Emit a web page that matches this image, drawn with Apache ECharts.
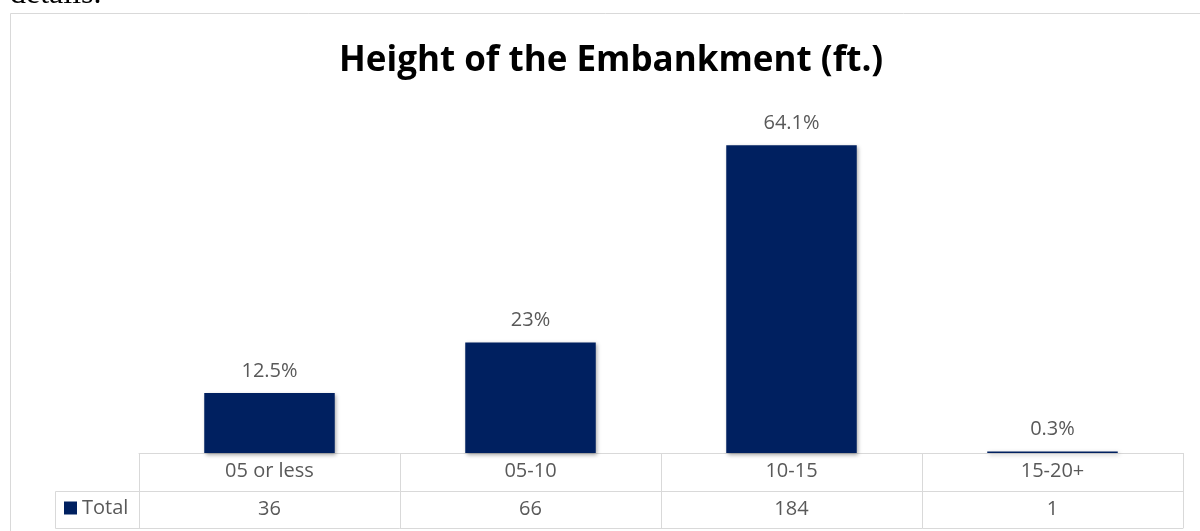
<!DOCTYPE html>
<html>
<head>
<meta charset="utf-8">
<script src="https://cdn.jsdelivr.net/npm/echarts@6/dist/echarts.min.js"></script>
<style>
html,body{margin:0;padding:0;background:#fff;}
#chart{width:1200px;height:531px;}
</style>
</head>
<body>
<div id="chart"></div>
<script>
const categories = ['05 or less', '05-10', '10-15', '15-20+'];
const percentValues = [12.5, 23, 64.1, 0.3];
const percentLabels = ['12.5%', '23%', '64.1%', '0.3%'];
const totalCounts = ['36', '66', '184', '1'];
const seriesName = 'Total';
const chartTitle = 'Height of the Embankment (ft.)';

const FONT = '"Open Sans"';
const GREY = '#595959';
const LINE = '#d9d9d9';
const NAVY = '#002060';

const chart = echarts.init(document.getElementById('chart'));
chart.setOption({
  animation: false,
  backgroundColor: '#fff',
  title: {
    text: chartTitle,
    left: 339,
    top: 44,
    padding: 0,
    textStyle: { fontFamily: FONT, fontWeight: 'bold', fontSize: 35, color: '#000' }
  },
  legend: {
    data: [seriesName],
    left: 64,
    top: 498,
    padding: 0,
    itemWidth: 13,
    itemHeight: 13,
    itemGap: 5,
    icon: 'rect',
    textStyle: { fontFamily: FONT, fontSize: 20, color: GREY, padding: [0, 0, 0, 0] }
  },
  grid: { left: 139, right: 17, top: 117, bottom: 78, containLabel: false },
  xAxis: [
    {
      type: 'category',
      data: categories,
      position: 'bottom',
      axisLine: { show: true, lineStyle: { color: LINE, width: 1 } },
      axisTick: { show: true, length: 75, interval: 0, lineStyle: { color: LINE, width: 1 } },
      axisLabel: { interval: 0, margin: 18, verticalAlign: 'middle', fontFamily: FONT, fontSize: 20, color: GREY },
      splitLine: { show: false }
    },
    {
      type: 'category',
      data: totalCounts,
      position: 'bottom',
      offset: 38,
      axisLine: { show: true, lineStyle: { color: LINE, width: 1 } },
      axisTick: { show: false },
      axisLabel: { interval: 0, margin: 18, verticalAlign: 'middle', fontFamily: FONT, fontSize: 20, color: GREY },
      splitLine: { show: false }
    },
    {
      type: 'category',
      data: categories,
      position: 'bottom',
      offset: 75,
      axisLine: { show: true, lineStyle: { color: LINE, width: 1 } },
      axisTick: { show: false },
      axisLabel: { show: false },
      splitLine: { show: false }
    }
  ],
  yAxis: {
    type: 'value',
    min: 0,
    max: 70,
    show: false,
    splitLine: { show: false }
  },
  series: [{
    name: seriesName,
    type: 'bar',
    xAxisIndex: 0,
    data: percentValues,
    barWidth: '50%',
    itemStyle: {
      color: NAVY,
      shadowColor: 'rgba(0,0,0,0.35)',
      shadowBlur: 4,
      shadowOffsetX: 1.5,
      shadowOffsetY: 1.5
    },
    label: {
      show: true,
      position: 'top',
      distance: 12,
      fontFamily: FONT,
      fontSize: 20,
      color: GREY,
      formatter: p => percentLabels[p.dataIndex]
    }
  }],
  graphic: [
    {
      type: 'rect',
      silent: true,
      shape: { x: 10.5, y: 13.5, width: 1300, height: 700 },
      style: { fill: 'none', stroke: LINE, lineWidth: 1 }
    },
    {
      type: 'polyline',
      silent: true,
      shape: { points: [[139, 491.5], [55.5, 491.5], [55.5, 528.5], [139, 528.5]] },
      style: { fill: 'none', stroke: LINE, lineWidth: 1 }
    },
    {
      type: 'text',
      silent: true,
      x: 10,
      y: 11,
      style: { text: 'details.', font: '32px "Liberation Serif"', fill: '#000', verticalAlign: 'bottom' }
    }
  ]
});
</script>
</body>
</html>
